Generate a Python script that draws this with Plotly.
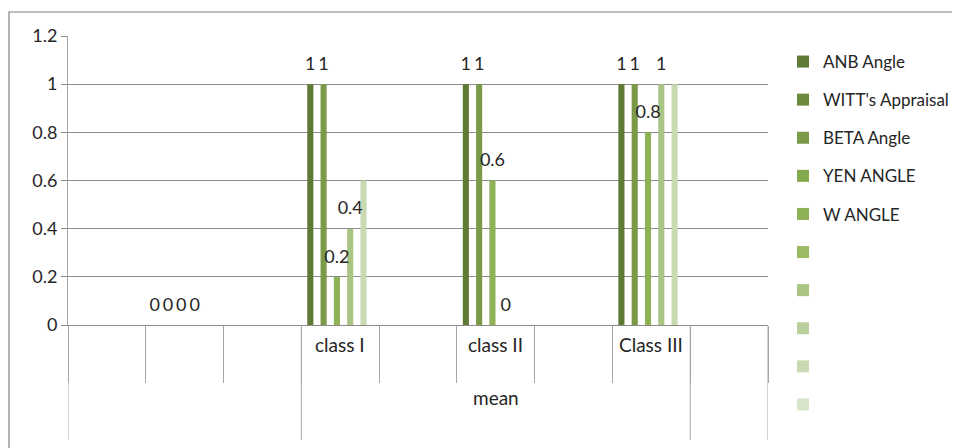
import plotly.graph_objects as go

# ---- data ----
categories = ["", "", "", "class I", "", "class II", "", "Class III", ""]
groups = ["", "", "", "mean", "mean", "mean", "mean", "mean", ""]
series_names = ["ANB Angle", "WITT's Appraisal", "BETA Angle", "YEN ANGLE", "W ANGLE",
                "", "", "", "", ""]
s1 = [None, 0, None, 1, None, 1, None, 1, None]
s2 = [None] * 9
s3 = [None, 0, None, 1, None, 1, None, 1, None]
s4 = [None] * 9
s5 = [None, 0, None, 0.2, None, 0.6, None, 0.8, None]
s6 = [None] * 9
s7 = [None, 0, None, 0.4, None, 0, None, 1, None]
s8 = [None] * 9
s9 = [None, None, None, 0.6, None, None, None, 1, None]
s10 = [None] * 9
series_values = [s1, s2, s3, s4, s5, s6, s7, s8, s9, s10]
labeled = [True, False, True, False, True, False, True, False, False, False]
y_ticks = [0, 0.2, 0.4, 0.6, 0.8, 1, 1.2]
y_ticktext = ["0", "0.2", "0.4", "0.6", "0.8", "1", "1.2"]

# ---- style ----
colors = ["#5E7A35", "#6B8A3C", "#7A9A48", "#84A84C", "#8FB155",
          "#9ABA63", "#AAC483", "#B9CF9C", "#C9DAB3", "#D6E4C9"]
FONT = "Lato"
TXT = "#262626"
GRID = "#8C8C8C"
n_ser = len(series_values)
gap = 0.145
slot = (1 - gap) / n_ser
bar_w = slot * 0.92
xs = list(range(len(categories)))

fig = go.Figure()
for k, (name, vals) in enumerate(zip(series_names, series_values)):
    center_off = -(1 - gap) / 2 + slot * (k + 0.5)
    fig.add_trace(go.Bar(
        x=xs, y=vals, name=name, legendgroup=f"g{k}", showlegend=True,
        marker=dict(color=colors[k], line=dict(width=0)),
        width=bar_w, offset=center_off - bar_w / 2,
        hoverinfo="skip",
    ))

# data labels
for k, vals in enumerate(series_values):
    if not labeled[k]:
        continue
    center_off = -(1 - gap) / 2 + slot * (k + 0.5)
    lx, ly, lt = [], [], []
    for i, v in enumerate(vals):
        if v is None:
            continue
        lx.append(i + center_off)
        ly.append(v)
        lt.append(f"{v:g}")
    fig.add_trace(go.Scatter(
        x=lx, y=ly, text=lt, mode="markers+text", textposition="top center",
        marker=dict(size=14, opacity=0),
        textfont=dict(family=FONT, size=18, color=TXT),
        showlegend=False, hoverinfo="skip",
    ))

# category tick lines: short at every boundary, long at group boundaries
shapes = []
nb = len(categories)
long_b = [0, nb]
for b in range(1, nb):
    if groups[b] != groups[b - 1]:
        long_b.append(b)
for b in long_b:
    shapes.append(dict(type="line", xref="x", yref="paper",
                       x0=b - 0.5, x1=b - 0.5, y0=0, y1=-115 / 289,
                       line=dict(color="#A6A6A6", width=1)))

# frame
shapes.append(dict(type="rect", xref="paper", yref="paper",
                   x0=(9 - 68) / 700, x1=(970 - 68) / 700,
                   y0=(325 - 460) / 289, y1=(325 - 12) / 289,
                   line=dict(color="#7F7F7F", width=1.2), fillcolor="rgba(0,0,0,0)",
                   layer="below"))

annotations = []
for i, c in enumerate(categories):
    if c:
        annotations.append(dict(x=i, y=-33 / 289, xref="x", yref="paper",
                                text=c, showarrow=False,
                                font=dict(family=FONT, size=19, color=TXT)))
# outer group labels
start = 0
for b in range(1, nb + 1):
    if b == nb or groups[b] != groups[start]:
        if groups[start]:
            annotations.append(dict(x=(start + b - 1) / 2, y=-86 / 289,
                                    xref="x", yref="paper", text=groups[start],
                                    showarrow=False,
                                    font=dict(family=FONT, size=19, color=TXT)))
        start = b

fig.update_layout(
    width=960, height=448,
    margin=dict(l=60, r=200, t=28, b=131, autoexpand=False),
    paper_bgcolor="white", plot_bgcolor="white",
    font=dict(family=FONT, size=18, color=TXT),
    barmode="overlay",
    showlegend=True,
    legend=dict(x=(783 - 68) / 700, xanchor="left", y=(325 - 44) / 289, yanchor="top",
                tracegroupgap=13, font=dict(family=FONT, size=17, color=TXT),
                itemwidth=30, bgcolor="rgba(0,0,0,0)", maxheight=430),
    xaxis=dict(range=[-0.5, nb - 0.5], tickvals=[b - 0.5 for b in range(nb + 1)],
               showticklabels=False, ticks="outside", ticklen=57, tickcolor="#A6A6A6",
               showgrid=False, zeroline=False, showline=True, linecolor=GRID,
               linewidth=1),
    yaxis=dict(range=[0, 1.2], tickvals=y_ticks, ticktext=y_ticktext,
               showgrid=True, gridcolor=GRID, gridwidth=1, zeroline=False,
               showline=True, linecolor="#A6A6A6", ticks="outside", ticklen=6,
               tickcolor=GRID, tickfont=dict(family=FONT, size=18, color=TXT)),
    shapes=shapes, annotations=annotations,
)

fig.write_html("out.html")
